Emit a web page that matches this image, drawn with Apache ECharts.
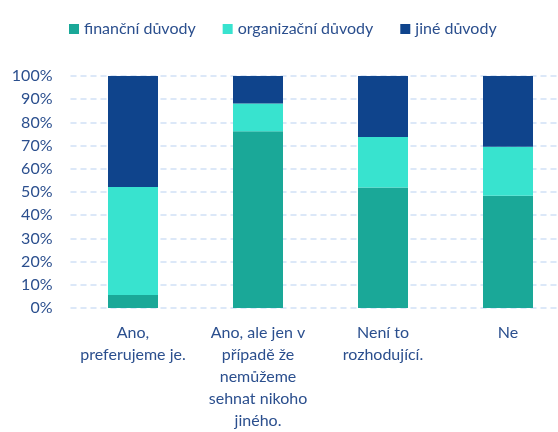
<!DOCTYPE html>
<html><head><meta charset="utf-8">
<script src="https://cdn.jsdelivr.net/npm/echarts@6/dist/echarts.min.js"></script>
<style>html,body{margin:0;padding:0;background:#fff}#c{width:558px;height:432px}</style>
</head><body><div id="c"></div>
<script>
const categories = ["Ano,\npreferujeme je.", "Ano, ale jen v\npřípadě že\nnemůžeme\nsehnat nikoho\njiného.", "Není to\nrozhodující.", "Ne"];
const seriesNames = ["finanční důvody", "organizační důvody", "jiné důvody"];
const financni = [5.6, 76.2, 51.9, 48.4];
const organizacni = [46.6, 12.0, 21.8, 21.1];
const jine = [47.8, 11.8, 26.3, 30.5];
const yTicks = [0, 10, 20, 30, 40, 50, 60, 70, 80, 90, 100];

const colors = ["#1AA898", "#38E3CF", "#0F448C"];
const textColor = "#2B4F8E";
const font = "Lato";
const chart = echarts.init(document.getElementById('c'));
const data = [financni, organizacni, jine];
chart.setOption({
  animation: false,
  textStyle: {fontFamily: font},
  legend: {
    top: 16, left: 64, itemWidth: 10, itemHeight: 10, itemGap: 27,
    icon: 'rect',
    textStyle: {color: textColor, fontSize: 16, fontFamily: font},
    data: seriesNames
  },
  grid: {left: 70.5, right: -12.5, top: 76, height: 232, containLabel: false, outerBoundsMode: 'none'},
  xAxis: {
    type: 'category', data: categories,
    axisLine: {show: false}, axisTick: {show: false},
    axisLabel: {color: textColor, fontSize: 16, lineHeight: 22, margin: 14, fontFamily: font, interval: 0}
  },
  yAxis: {
    type: 'value', min: yTicks[0], max: yTicks[yTicks.length-1], interval: 10,
    axisLabel: {color: textColor, fontSize: 16, fontFamily: font, margin: 18, formatter: v => v + '%'},
    splitLine: {lineStyle: {color: '#DCE8F8', type: [6, 4], width: 2}},
    axisLine: {show: false}, axisTick: {show: false}
  },
  series: seriesNames.map((n, i) => ({
    name: n, type: 'bar', stack: 'total', barWidth: 50,
    itemStyle: {color: colors[i]},
    data: data[i]
  }))
});
</script></body></html>
